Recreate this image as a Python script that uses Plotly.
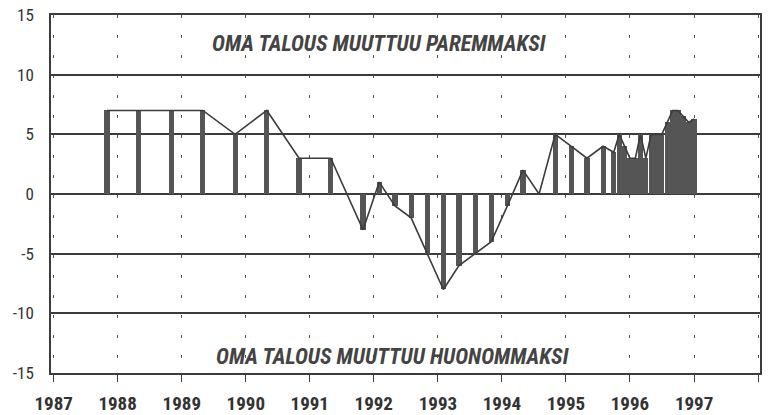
import plotly.graph_objects as go

# Survey dates (month of survey) and balance values
dates = [
    "1987-11-01", "1988-05-01", "1988-11-01", "1989-05-01", "1989-11-01",
    "1990-05-01", "1990-11-01", "1991-05-01", "1991-11-01",
    "1992-02-01", "1992-05-01", "1992-08-01", "1992-11-01",
    "1993-02-01", "1993-05-01", "1993-08-01", "1993-11-01",
    "1994-02-01", "1994-05-01", "1994-08-01", "1994-11-01",
    "1995-02-01", "1995-05-01", "1995-08-01",
    "1995-10-01", "1995-11-01", "1995-12-01",
    "1996-01-01", "1996-02-01", "1996-03-01", "1996-04-01", "1996-05-01",
    "1996-06-01", "1996-07-01", "1996-08-01", "1996-09-01", "1996-10-01",
    "1996-11-01", "1996-12-01", "1997-01-01",
]
values = [
    7, 7, 7, 7, 5,
    7, 3, 3, -3,
    1, -1, -2, -5,
    -8, -6, -5, -4,
    -1, 2, 0, 5,
    4, 3, 4,
    3.5, 5, 4,
    3, 3, 5, 3, 5,
    5, 5, 6, 7, 7,
    6.5, 6, 6.3,
]

year_ticks = [f"{y}-01-01" for y in range(1987, 1999)]
year_labels = [str(y) for y in range(1987, 1998)] + [""]
y_ticks = [-15, -10, -5, 0, 5, 10, 15]
y_labels = ["-15", "-10", "-5", "0", "5", "10", "15"]

text_up = "OMA TALOUS MUUTTUU PAREMMAKSI"
text_down = "OMA TALOUS MUUTTUU HUONOMMAKSI"

INK = "#3c3c3c"
FONT = "Roboto Condensed, Roboto, sans-serif"

fig = go.Figure()
fig.add_trace(go.Bar(
    x=dates, y=values,
    width=2.55e9,
    marker=dict(color="#555555", line=dict(width=0)),
    hoverinfo="skip",
))
fig.add_trace(go.Scatter(
    x=dates, y=values, mode="lines",
    line=dict(color=INK, width=1.6),
    hoverinfo="skip",
))

fig.update_layout(
    width=769, height=415,
    margin=dict(l=51, r=9, t=15, b=42),
    paper_bgcolor="white", plot_bgcolor="white",
    showlegend=False,
    bargap=0,
    font=dict(family=FONT, color="#333333"),
    xaxis=dict(
        type="date",
        range=["1986-12-17", "1998-01-12"],
        tickmode="array", tickvals=year_ticks, ticktext=year_labels,
        ticks="outside", ticklen=7, tickwidth=1.2, tickcolor=INK,
        ticklabelstandoff=5,
        tickfont=dict(size=19, family=FONT, color="#333333", weight="bold"),
        showgrid=True, gridcolor="#555555", gridwidth=1.2, griddash="3px,17px",
        showline=True, mirror=True, linecolor=INK, linewidth=1.6,
        zeroline=False, automargin=False,
    ),
    yaxis=dict(
        range=[-15, 15],
        tickmode="array", tickvals=y_ticks, ticktext=y_labels,
        ticks="", ticklabelstandoff=12,
        tickfont=dict(size=17, family=FONT, color="#333333"),
        showgrid=True, gridcolor=INK, gridwidth=1.6,
        zeroline=True, zerolinecolor=INK, zerolinewidth=1.6,
        showline=True, mirror=True, linecolor=INK, linewidth=1.6,
        automargin=False,
    ),
    annotations=[
        dict(text=f"<b><i>{text_up}</i></b>", xref="paper", yref="y",
             x=0.463, y=12.6, showarrow=False,
             font=dict(size=22, family=FONT, color="#444444")),
        dict(text=f"<b><i>{text_down}</i></b>", xref="paper", yref="y",
             x=0.481, y=-13.6, showarrow=False,
             font=dict(size=22, family=FONT, color="#444444")),
    ],
)

fig.write_html("out.html", config={"displayModeBar": False},
               post_script="document.body.style.margin='0px';")
